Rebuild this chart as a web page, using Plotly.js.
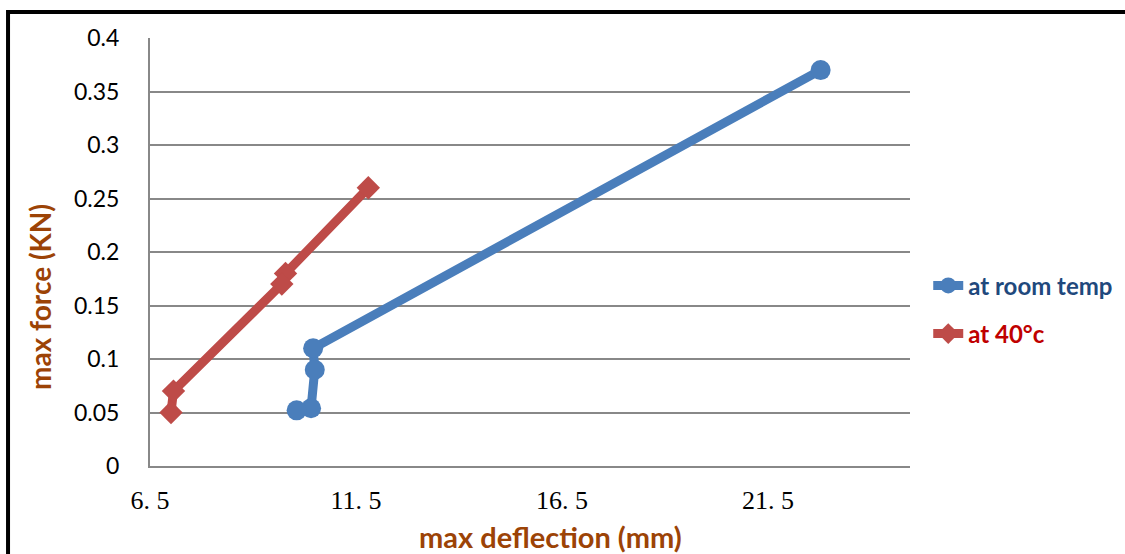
<!DOCTYPE html>
<html>
<head>
<meta charset="utf-8">
<script src="https://cdn.plot.ly/plotly-3.0.1.min.js"></script>
<style>html,body{margin:0;padding:0;background:#fff;}#chart{width:1125px;height:554px;}</style>
</head>
<body>
<div id="chart"></div>
<script>
// Data
var roomTempDeflection = [22.78, 10.46, 10.50, 10.41, 10.06];
var roomTempForce      = [0.37, 0.11, 0.09, 0.054, 0.052];
var hotDeflection      = [11.80, 9.79, 9.70, 7.07, 7.01];
var hotForce           = [0.26, 0.18, 0.17, 0.07, 0.05];
var seriesNames        = ['at room temp', 'at 40°c'];
var xTickVals          = [6.5, 11.5, 16.5, 21.5];
var xTickText          = ['6. 5', '11. 5', '16. 5', '21. 5'];
var yTickVals          = [0, 0.05, 0.1, 0.15, 0.2, 0.25, 0.3, 0.35, 0.4];
var yTickText          = ['0', '0.05', '0.1', '0.15', '0.2', '0.25', '0.3', '0.35', '0.4'];
var xTitle             = 'max deflection (mm)';
var yTitle             = 'max force (KN)';

var blue = '#4a7ebb', red = '#be4b48';
var titleColor = '#9c4306';

var traces = [
  {
    x: roomTempDeflection, y: roomTempForce, name: seriesNames[0],
    type: 'scatter', mode: 'lines+markers', legendgroup: 'a',
    line: {color: blue, width: 9},
    marker: {symbol: 'circle', size: 20, color: blue}
  },
  {
    x: hotDeflection, y: hotForce, name: seriesNames[1],
    type: 'scatter', mode: 'lines+markers', legendgroup: 'b',
    line: {color: red, width: 9},
    marker: {symbol: 'diamond', size: 18, color: red}
  }
];

var layout = {
  width: 1125, height: 554,
  margin: {l: 150, r: 215, t: 38, b: 88, autoexpand: false},
  paper_bgcolor: '#fff', plot_bgcolor: '#fff',
  showlegend: true,
  legend: {
    x: 1.024, xanchor: 'left', y: 0.365, yanchor: 'middle',
    traceorder: 'grouped', tracegroupgap: 14,
    font: {family: 'Lato, Calibri, sans-serif', size: 24, weight: 'bold'},
    bgcolor: 'rgba(0,0,0,0)'
  },
  xaxis: {
    range: [6.5, 24.95], tickvals: xTickVals, ticktext: xTickText,
    showgrid: false, zeroline: false,
    showline: true, linecolor: '#888', linewidth: 2,
    ticks: '', ticklabelstandoff: 10,
    tickfont: {family: '"Liberation Serif", serif', size: 26, color: '#000'}
  },
  yaxis: {
    range: [0, 0.4], tickvals: yTickVals, ticktext: yTickText,
    showgrid: true, gridcolor: '#888', gridwidth: 2,
    zeroline: false, showline: true, linecolor: '#888', linewidth: 2,
    ticks: '', ticklabelstandoff: 24,
    tickfont: {family: 'Lato, Calibri, sans-serif', size: 23, color: '#000'}
  },
  annotations: [
    {text: xTitle, xref: 'paper', yref: 'paper', x: 0.5276, y: -0.1636,
     xanchor: 'center', yanchor: 'middle', showarrow: false,
     font: {family: 'Lato, Calibri, sans-serif', size: 29, weight: 'bold', color: titleColor}},
    {text: yTitle, xref: 'paper', yref: 'paper', x: -0.1447, y: 0.395,
     xanchor: 'center', yanchor: 'middle', showarrow: false, textangle: -90,
     font: {family: 'Lato, Calibri, sans-serif', size: 28, weight: 'bold', color: titleColor}}
  ],
  shapes: [
    {type: 'path', xref: 'paper', yref: 'paper',
     path: 'M -0.1868 -0.21 L -0.1868 1.0607 L 1.29 1.0607',
     line: {color: '#000', width: 4}}
  ]
};

Plotly.newPlot('chart', traces, layout, {displayModeBar: false, staticPlot: true}).then(function(){
  // colour legend texts like the reference
  var texts = document.querySelectorAll('.legendtext');
  var cols = ['#1f497d', '#c00000'];
  texts.forEach(function(t, i){ t.style.fill = cols[i]; });
});
</script>
</body>
</html>
